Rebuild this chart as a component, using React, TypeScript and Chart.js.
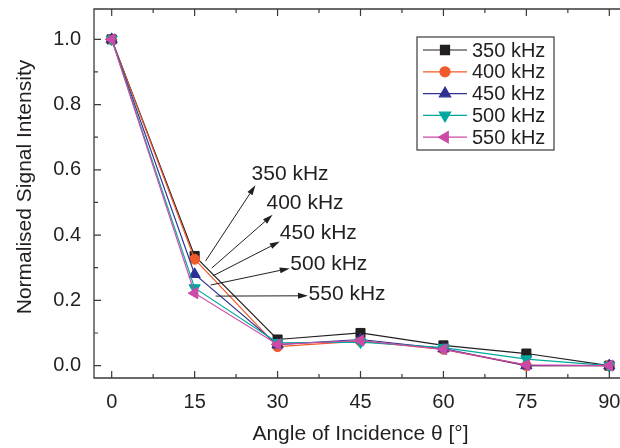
import React, { useEffect, useRef } from "react";
import { Chart, registerables } from "chart.js";
import { drawPoint } from "chart.js/helpers";

Chart.register(...registerables);

// Incidence angles (degrees)
const angles = [0, 15, 30, 45, 60, 75, 90];

// Normalised signal intensity per transducer frequency
const intensity350 = [1.0, 0.336, 0.08, 0.1, 0.062, 0.037, 0.0];
const intensity400 = [1.0, 0.326, 0.058, 0.075, 0.05, 0.0, 0.0];
const intensity450 = [1.0, 0.28, 0.064, 0.08, 0.052, 0.0, 0.0];
const intensity500 = [1.0, 0.238, 0.07, 0.072, 0.055, 0.02, 0.0];
const intensity550 = [1.0, 0.222, 0.065, 0.077, 0.05, 0.002, 0.0];

const seriesLabels = ["350 kHz", "400 kHz", "450 kHz", "500 kHz", "550 kHz"];
const seriesColors = ["#231f20", "#f15a29", "#2e3192", "#00a79d", "#cc4aa6"];

const xTickValues = [0, 15, 30, 45, 60, 75, 90];
const xMinorValues = [7.5, 22.5, 37.5, 52.5, 67.5, 82.5];
const yTickValues = [0, 0.2, 0.4, 0.6, 0.8, 1.0];
const yMinorValues = [0.1, 0.3, 0.5, 0.7, 0.9];

const xTitle = "Angle of Incidence θ [°]";
const yTitle = "Normalised Signal Intensity";

// Callout arrows: tail (near the 15° markers) -> head (by the label), data coordinates
const calloutLabels = ["350 kHz", "400 kHz", "450 kHz", "500 kHz", "550 kHz"];
const calloutTailX = [17.0, 18.1, 18.3, 17.9, 18.8];
const calloutTailY = [0.321, 0.299, 0.275, 0.247, 0.213];
const calloutHeadX = [26.0, 29.1, 30.4, 32.2, 35.5];
const calloutHeadY = [0.553, 0.462, 0.38, 0.298, 0.214];
const calloutTextX = [25.3, 28.0, 30.4, 32.3, 35.6];
const calloutTextY = [0.587, 0.498, 0.406, 0.311, 0.219];

const FONT = "'Liberation Sans', Arial, Helvetica, sans-serif";
const INK = "#231f20";
const AXIS = "#3a3a3a";

type Marker = { pointStyle: string; radius: number; rotation: number };
const markers: Marker[] = [
  { pointStyle: "rect", radius: 6.4, rotation: 0 },
  { pointStyle: "circle", radius: 5, rotation: 0 },
  { pointStyle: "triangle", radius: 6.5, rotation: 0 },
  { pointStyle: "triangle", radius: 6.5, rotation: 180 },
  { pointStyle: "triangle", radius: 6.5, rotation: -90 },
];

const allSeries = [intensity350, intensity400, intensity450, intensity500, intensity550];

const decorPlugin = {
  id: "decor",
  afterDraw(chart: any) {
    const { ctx, chartArea } = chart;
    const xs = chart.scales.x;
    const ys = chart.scales.y;
    const { left, right, top, bottom } = chartArea;
    ctx.save();

    // frame
    ctx.strokeStyle = AXIS;
    ctx.lineWidth = 1.3;
    ctx.beginPath();
    ctx.rect(left, top, right - left, bottom - top);
    ctx.stroke();

    // inward tick marks (mirrored on the top edge)
    ctx.lineWidth = 1.2;
    ctx.beginPath();
    const xTick = (v: number, len: number) => {
      const px = xs.getPixelForValue(v);
      ctx.moveTo(px, bottom);
      ctx.lineTo(px, bottom - len);
      ctx.moveTo(px, top);
      ctx.lineTo(px, top + len);
    };
    xTickValues.forEach((v) => xTick(v, 7));
    xMinorValues.forEach((v) => xTick(v, 4));
    const yTick = (v: number, len: number) => {
      const py = ys.getPixelForValue(v);
      ctx.moveTo(left, py);
      ctx.lineTo(left + len, py);
      ctx.moveTo(right, py);
      ctx.lineTo(right - len, py);
    };
    yTickValues.forEach((v) => yTick(v, 7));
    yMinorValues.forEach((v) => yTick(v, 4));
    ctx.stroke();

    // axis titles
    ctx.fillStyle = INK;
    ctx.font = `21px ${FONT}`;
    ctx.textAlign = "center";
    ctx.textBaseline = "middle";
    ctx.fillText(xTitle, (left + right) / 2, 434);
    ctx.save();
    ctx.translate(25, 187);
    ctx.rotate(-Math.PI / 2);
    ctx.fillText(yTitle, 0, 0);
    ctx.restore();

    // callouts
    ctx.strokeStyle = INK;
    ctx.fillStyle = INK;
    ctx.lineWidth = 1;
    calloutLabels.forEach((label, i) => {
      const x0 = xs.getPixelForValue(calloutTailX[i]);
      const y0 = ys.getPixelForValue(calloutTailY[i]);
      const x1 = xs.getPixelForValue(calloutHeadX[i]);
      const y1 = ys.getPixelForValue(calloutHeadY[i]);
      const ang = Math.atan2(y1 - y0, x1 - x0);
      const headLen = 10;
      const headHalf = 3;
      const bx = x1 - Math.cos(ang) * headLen;
      const by = y1 - Math.sin(ang) * headLen;
      ctx.beginPath();
      ctx.moveTo(x0, y0);
      ctx.lineTo(bx, by);
      ctx.stroke();
      ctx.beginPath();
      ctx.moveTo(x1, y1);
      ctx.lineTo(bx + Math.sin(ang) * headHalf, by - Math.cos(ang) * headHalf);
      ctx.lineTo(bx - Math.sin(ang) * headHalf, by + Math.cos(ang) * headHalf);
      ctx.closePath();
      ctx.fill();
      ctx.font = `21px ${FONT}`;
      ctx.textAlign = "left";
      ctx.textBaseline = "middle";
      ctx.fillText(label, xs.getPixelForValue(calloutTextX[i]), ys.getPixelForValue(calloutTextY[i]));
    });

    // legend
    const boxL = 417;
    const boxT = 37;
    const boxW = 137;
    const rowH = 21.8;
    const boxH = rowH * seriesLabels.length + 4;
    ctx.fillStyle = "#ffffff";
    ctx.fillRect(boxL, boxT, boxW, boxH);
    ctx.strokeStyle = AXIS;
    ctx.lineWidth = 1.2;
    ctx.strokeRect(boxL, boxT, boxW, boxH);
    seriesLabels.forEach((label, i) => {
      const cy = boxT + 13 + i * rowH;
      ctx.strokeStyle = seriesColors[i];
      ctx.lineWidth = 1.2;
      ctx.beginPath();
      ctx.moveTo(423, cy);
      ctx.lineTo(467, cy);
      ctx.stroke();
      ctx.fillStyle = seriesColors[i];
      drawPoint(ctx, { ...markers[i], borderWidth: 1 } as any, 445, cy);
      ctx.fillStyle = INK;
      ctx.font = `20px ${FONT}`;
      ctx.textAlign = "left";
      ctx.textBaseline = "middle";
      ctx.fillText(label, 472, cy + 1);
    });

    ctx.restore();
  },
};

export default function App() {
  const canvasRef = useRef<HTMLCanvasElement | null>(null);

  useEffect(() => {
    const canvas = canvasRef.current;
    if (!canvas) return;
    const datasets = allSeries.map((values, i) => ({
      label: seriesLabels[i],
      data: angles.map((a, j) => ({ x: a, y: values[j] })),
      borderColor: seriesColors[i],
      backgroundColor: seriesColors[i],
      pointBackgroundColor: seriesColors[i],
      pointBorderColor: seriesColors[i],
      borderWidth: 1.2,
      pointBorderWidth: 1,
      pointStyle: markers[i].pointStyle,
      pointRadius: markers[i].radius,
      pointRotation: markers[i].rotation,
      order: seriesLabels.length - i,
      tension: 0,
    }));

    const chart = new Chart(canvas, {
      type: "line",
      data: { datasets } as any,
      options: {
        responsive: false,
        animation: false,
        devicePixelRatio: 1,
        layout: { padding: { top: 9, right: 13, left: 0, bottom: 0 } },
        plugins: { legend: { display: false }, tooltip: { enabled: false } },
        scales: {
          x: {
            type: "linear",
            min: -3.2,
            max: 93.2,
            grid: { display: false, drawTicks: false },
            border: { display: false },
            ticks: {
              padding: 12,
              color: INK,
              font: { family: FONT, size: 20 },
              maxRotation: 0,
              callback: (v: any) => String(v),
            },
            afterBuildTicks: (scale: any) => {
              scale.ticks = xTickValues.map((v) => ({ value: v }));
            },
            afterFit: (scale: any) => {
              scale.height = 70;
              scale.paddingLeft = 0;
              scale.paddingRight = 0;
            },
          },
          y: {
            type: "linear",
            min: -0.038,
            max: 1.093,
            grid: { display: false, drawTicks: false },
            border: { display: false },
            ticks: {
              padding: 13,
              color: INK,
              font: { family: FONT, size: 20 },
              callback: (v: any) => Number(v).toFixed(1),
            },
            afterBuildTicks: (scale: any) => {
              scale.ticks = yTickValues.map((v) => ({ value: v }));
            },
            afterFit: (scale: any) => {
              scale.width = 94;
              scale.paddingTop = 0;
              scale.paddingBottom = 0;
            },
          },
        },
      },
      plugins: [decorPlugin],
    } as any);

    return () => chart.destroy();
  }, []);

  return (
    <div
      style={{
        position: "fixed",
        left: 0,
        top: 0,
        width: 620,
        height: 448,
        overflow: "hidden",
        background: "#ffffff",
      }}
    >
      <canvas ref={canvasRef} width={640} height={448} style={{ width: 640, height: 448, display: "block" }} />
    </div>
  );
}
